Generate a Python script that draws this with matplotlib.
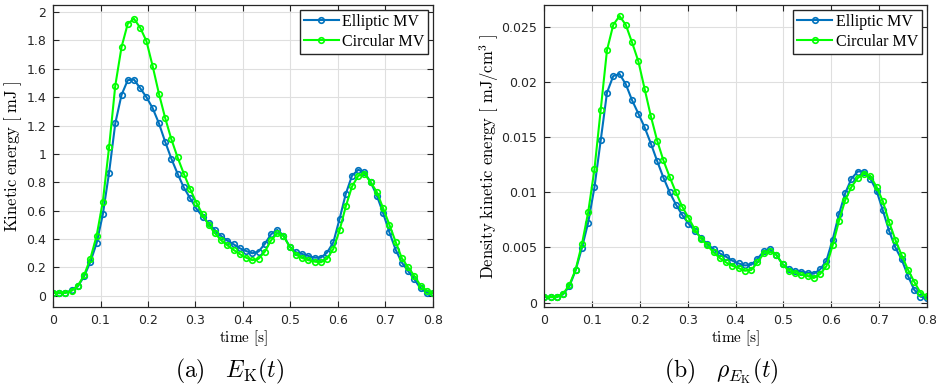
import numpy as np
import matplotlib
matplotlib.use('Agg')
from matplotlib import pyplot as plt

# istanti temporali (62 campioni da 0 a 0.8 s)
t = np.linspace(0, 0.8, 62)

# energia cinetica [mJ]
ek_ellittica = [0.021, 0.017, 0.02, 0.038, 0.066, 0.137, 0.238, 0.37, 0.573, 0.867,
                1.216, 1.416, 1.52, 1.524, 1.463, 1.40, 1.322, 1.216, 1.086, 0.966,
                0.86, 0.763, 0.688, 0.615, 0.558, 0.509, 0.462, 0.42, 0.388, 0.362,
                0.334, 0.315, 0.299, 0.311, 0.365, 0.433, 0.464, 0.424, 0.346, 0.306,
                0.294, 0.28, 0.268, 0.268, 0.304, 0.376, 0.541, 0.718, 0.846, 0.888,
                0.869, 0.80, 0.704, 0.581, 0.447, 0.325, 0.233, 0.174, 0.115, 0.052,
                0.021, 0.016]
ek_circolare = [0.02, 0.02, 0.02, 0.035, 0.07, 0.145, 0.262, 0.422, 0.664, 1.046,
                1.482, 1.753, 1.918, 1.953, 1.89, 1.795, 1.618, 1.425, 1.254, 1.103,
                0.975, 0.86, 0.754, 0.657, 0.573, 0.497, 0.441, 0.39, 0.355, 0.322,
                0.293, 0.268, 0.25, 0.26, 0.31, 0.39, 0.44, 0.42, 0.345, 0.29,
                0.265, 0.25, 0.24, 0.235, 0.26, 0.33, 0.46, 0.63, 0.77, 0.845,
                0.86, 0.80, 0.73, 0.616, 0.50, 0.38, 0.264, 0.20, 0.14, 0.071,
                0.035, 0.016]

# densita' di energia cinetica [mJ/cm^3]
rho_ellittica = [0.0005, 0.0005, 0.0005, 0.00075, 0.00148, 0.00293, 0.00496, 0.00726, 0.01046, 0.01473,
                 0.01905, 0.02056, 0.02074, 0.01981, 0.01836, 0.01715, 0.01591, 0.01443, 0.01285, 0.01134,
                 0.01001, 0.00889, 0.00795, 0.00717, 0.0065, 0.0059, 0.0053, 0.00485, 0.00446, 0.00416,
                 0.0038, 0.00355, 0.00337, 0.00343, 0.00398, 0.00464, 0.00482, 0.00434, 0.00349, 0.00307,
                 0.00289, 0.0028, 0.00271, 0.00262, 0.00301, 0.0038, 0.00572, 0.00801, 0.00992, 0.01125,
                 0.01189, 0.01189, 0.01125, 0.01015, 0.00837, 0.00651, 0.005, 0.00392, 0.00244, 0.00117,
                 0.00054, 0.00042]
rho_circolare = [0.00055, 0.0005, 0.0005, 0.0008, 0.0016, 0.003, 0.0053, 0.0082, 0.0121, 0.0175,
                 0.0229, 0.0252, 0.0260, 0.0252, 0.0236, 0.0219, 0.0194, 0.0169, 0.0147, 0.0129,
                 0.0114, 0.0100, 0.0087, 0.0077, 0.00665, 0.0058, 0.0052, 0.00455, 0.00404, 0.00364,
                 0.00334, 0.00313, 0.00289, 0.00295, 0.00364, 0.00446, 0.00464, 0.00434, 0.00349, 0.00289,
                 0.00271, 0.00253, 0.00241, 0.00223, 0.0026, 0.0033, 0.0052, 0.0074, 0.0093, 0.0105,
                 0.0113, 0.0117, 0.0115, 0.0105, 0.0092, 0.0073, 0.0057, 0.0043, 0.0030, 0.0019,
                 0.0009, 0.0006]

xticks = [0, 0.1, 0.2, 0.3, 0.4, 0.5, 0.6, 0.7, 0.8]
xlabels = ['0', '0.1', '0.2', '0.3', '0.4', '0.5', '0.6', '0.7', '0.8']
yticks_ek = [0, 0.2, 0.4, 0.6, 0.8, 1, 1.2, 1.4, 1.6, 1.8, 2]
ylabels_ek = ['0', '0.2', '0.4', '0.6', '0.8', '1', '1.2', '1.4', '1.6', '1.8', '2']
yticks_rho = [0, 0.005, 0.01, 0.015, 0.02, 0.025]
ylabels_rho = ['0', '0.005', '0.01', '0.015', '0.02', '0.025']

plt.rcParams['mathtext.fontset'] = 'cm'

blu = '#0072BD'
verde = '#00FF00'
grigio = '#262626'

fig = plt.figure(figsize=(9.37, 3.89), dpi=100)
ax1 = fig.add_axes([53/937, 1-307/389, 380/937, 302/389])
ax2 = fig.add_axes([544.3/937, 1-307/389, 382.4/937, 302/389])


def stile_assi(ax, yt, yl, ylim):
    ax.set_xlim(0, 0.8)
    ax.set_ylim(*ylim)
    ax.set_xticks(xticks)
    ax.set_xticklabels(xlabels)
    ax.set_yticks(yt)
    ax.set_yticklabels(yl)
    ax.grid(True, color='#dfdfdf', linewidth=0.8)
    ax.set_axisbelow(True)
    ax.tick_params(direction='in', top=True, right=True, length=4, width=0.8,
                   colors=grigio, labelsize=9, pad=5)
    for s in ax.spines.values():
        s.set_color(grigio)
        s.set_linewidth(0.9)


for ax, y1, y2 in [(ax1, ek_ellittica, ek_circolare), (ax2, rho_ellittica, rho_circolare)]:
    ax.plot(t, y1, '-o', color=blu, lw=1.5, ms=4, mfc='none', mew=1.2, label='Elliptic MV')
    ax.plot(t, y2, '-o', color=verde, lw=1.5, ms=4, mfc='none', mew=1.2, label='Circular MV')
    ax.legend(loc='upper right', prop={'family': 'Liberation Serif', 'size': 11.5},
              fancybox=False, framealpha=1, edgecolor=grigio, borderpad=0.25,
              handlelength=2.2, handletextpad=0.2, labelspacing=0.25, borderaxespad=0.3)

stile_assi(ax1, yticks_ek, ylabels_ek, (-0.08, 2.05))
stile_assi(ax2, yticks_rho, ylabels_rho, (-0.0004, 0.027))

ax1.set_xlabel(r'$\mathrm{time\ [s]}$', fontsize=11, labelpad=1)
ax2.set_xlabel(r'$\mathrm{time\ [s]}$', fontsize=11, labelpad=1)
ax1.set_ylabel(r'$\mathrm{Kinetic\ energy\ [\ mJ\ ]}$', fontsize=12)
ax2.set_ylabel(r'$\mathrm{Density\ kinetic\ energy\ [\ mJ/cm^3\ ]}$', fontsize=12)
ax1.yaxis.set_label_coords(-0.076, 0.5)
ax2.yaxis.set_label_coords(-0.113, 0.5)

# didascalie sotto i grafici
fig.text(230/937, 1-371/389, r'$\mathrm{(a)}\ \ \ E_\mathrm{K}(t)$', fontsize=17, ha='center', va='center')
fig.text(721/937, 1-371/389, r'$\mathrm{(b)}\ \ \ \rho_{E_\mathrm{K}}(t)$', fontsize=17, ha='center', va='center')

fig.savefig('out.png', dpi=100)
